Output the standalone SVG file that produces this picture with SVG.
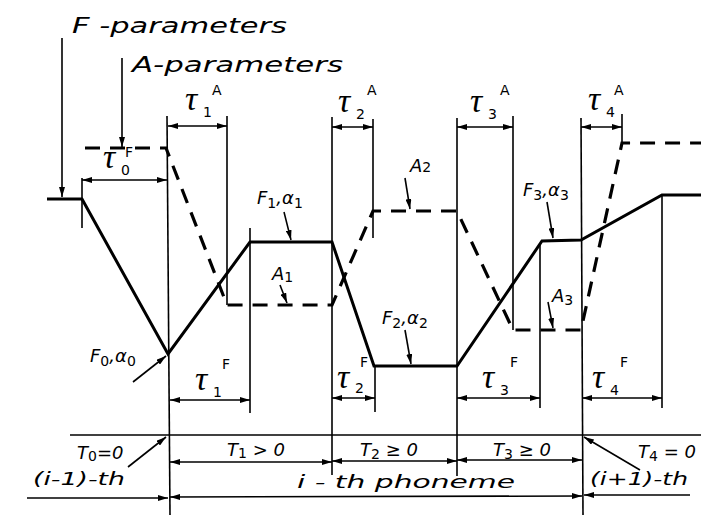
<svg xmlns="http://www.w3.org/2000/svg" width="701" height="521" viewBox="0 0 701 521">
<defs>
<marker id="ah" viewBox="0 0 10 6" refX="10" refY="3" markerWidth="10" markerHeight="6" markerUnits="userSpaceOnUse" orient="auto-start-reverse">
<path d="M0,0 L10,3 L0,6 Z" fill="#000"/>
</marker>
<style>
.thin{stroke:#000;stroke-width:1.6;fill:none}
.dim{stroke:#000;stroke-width:1.6;fill:none;marker-start:url(#ah);marker-end:url(#ah)}
.ptr{stroke:#000;stroke-width:1.6;fill:none;marker-end:url(#ah)}
.F{stroke:#000;stroke-width:3;fill:none;stroke-linejoin:miter}
.A{stroke:#000;stroke-width:3.2;fill:none;stroke-dasharray:15 10}
text{font-family:"DejaVu Sans","Liberation Sans",sans-serif;font-style:italic;fill:#000}
.tau{font-size:34px;font-family:"Liberation Serif","DejaVu Serif",serif;font-style:italic}
.sub{font-size:14px;font-style:normal}
.lab{font-size:18px}
.big{font-size:22px}
</style>
</defs>
<rect width="701" height="521" fill="#fff"/>

<g id="connectors">
<line class="thin" x1="167" y1="116" x2="170" y2="515"/>
<line class="thin" x1="227" y1="116" x2="227" y2="305"/>
<line class="thin" x1="250" y1="228" x2="250" y2="413"/>
<line class="thin" x1="332" y1="117" x2="332" y2="475"/>
<line class="thin" x1="373" y1="119" x2="373" y2="238"/>
<line class="thin" x1="375" y1="366" x2="375" y2="412"/>
<line class="thin" x1="457" y1="118" x2="457" y2="476"/>
<line class="thin" x1="513" y1="116" x2="513" y2="330"/>
<line class="thin" x1="540" y1="245" x2="540" y2="408"/>
<line class="thin" x1="581" y1="118" x2="583" y2="515"/>
<line class="thin" x1="622" y1="114" x2="622" y2="143"/>
<line class="thin" x1="662" y1="195" x2="662" y2="408"/>
<line class="thin" x1="82" y1="178" x2="82" y2="228"/>

<line class="ptr" x1="62" y1="38" x2="62" y2="197"/>
<line class="ptr" x1="122" y1="58" x2="122" y2="147"/>

<line class="dim" x1="168" y1="126" x2="227" y2="126"/>
<line class="dim" x1="332" y1="127" x2="373" y2="127"/>
<line class="dim" x1="457" y1="127" x2="513" y2="127"/>
<line class="dim" x1="581" y1="127" x2="622" y2="127"/>
<line class="dim" x1="82" y1="180" x2="167" y2="180"/>
<line class="dim" x1="170" y1="400" x2="250" y2="400"/>
<line class="dim" x1="332" y1="398" x2="375" y2="398"/>
<line class="dim" x1="457" y1="398" x2="540" y2="398"/>
<line class="dim" x1="582" y1="398" x2="662" y2="398"/>

<line class="thin" x1="70" y1="435" x2="701" y2="435"/>
<line class="dim" x1="170" y1="462" x2="332" y2="462"/>
<line class="dim" x1="332" y1="461" x2="457" y2="461"/>
<line class="dim" x1="457" y1="460" x2="582" y2="460"/>
<line class="ptr" x1="27" y1="498" x2="168" y2="498"/>
<line class="dim" x1="170" y1="497" x2="582" y2="496"/>
<line class="ptr" x1="690" y1="495" x2="584" y2="495"/>

<line class="ptr" x1="133" y1="382" x2="166" y2="356"/>
<line class="ptr" x1="284" y1="212" x2="291" y2="240"/>
<line class="ptr" x1="280" y1="285" x2="287" y2="303"/>
<line class="ptr" x1="405" y1="178" x2="410" y2="209"/>
<line class="ptr" x1="405" y1="330" x2="411" y2="364"/>
<line class="ptr" x1="547" y1="202" x2="553" y2="238"/>
<line class="ptr" x1="548" y1="302" x2="553" y2="328"/>
<line class="ptr" x1="128" y1="467" x2="166" y2="437"/>
<line class="ptr" x1="640" y1="470" x2="584" y2="437"/>

<polyline class="F" points="47,199 82,199 168,354 250,242 332,242 374,366 457,366 542,241 581,240 662,195 701,195"/>
<polyline class="A" points="85,148 166,148 227,305 332,305 373,211 457,211 513,330 581,330 622,143 701,143"/>
</g>

<g id="labels">
<text class="big" x="72" y="33" textLength="215" lengthAdjust="spacingAndGlyphs">F -parameters</text>
<text class="big" x="132" y="72" textLength="211" lengthAdjust="spacingAndGlyphs">A-parameters</text>

<text class="tau" x="185" y="110">τ</text><text class="sub" x="203" y="117">1</text><text class="sub" x="212" y="95">A</text>
<text class="tau" x="338" y="112">τ</text><text class="sub" x="356" y="119">2</text><text class="sub" x="367" y="95">A</text>
<text class="tau" x="470" y="112">τ</text><text class="sub" x="488" y="119">3</text><text class="sub" x="500" y="95">A</text>
<text class="tau" x="588" y="110">τ</text><text class="sub" x="606" y="117">4</text><text class="sub" x="614" y="95">A</text>
<text class="tau" x="103" y="168">τ</text><text class="sub" x="121" y="175">0</text><text class="sub" x="125" y="157">F</text>

<text class="tau" x="195" y="390">τ</text><text class="sub" x="213" y="397">1</text><text class="sub" x="222" y="369">F</text>
<text class="tau" x="337" y="388">τ</text><text class="sub" x="355" y="393">2</text><text class="sub" x="360" y="367">F</text>
<text class="tau" x="482" y="388">τ</text><text class="sub" x="500" y="395">3</text><text class="sub" x="510" y="367">F</text>
<text class="tau" x="592" y="388">τ</text><text class="sub" x="610" y="395">4</text><text class="sub" x="620" y="367">F</text>

<text class="lab" x="90" y="362">F<tspan class="sub" dy="4">0</tspan><tspan dy="-4">,α</tspan><tspan class="sub" dy="4">0</tspan></text>
<text class="lab" x="257" y="204">F<tspan class="sub" dy="4">1</tspan><tspan dy="-4">,α</tspan><tspan class="sub" dy="4">1</tspan></text>
<text class="lab" x="382" y="324">F<tspan class="sub" dy="4">2</tspan><tspan dy="-4">,α</tspan><tspan class="sub" dy="4">2</tspan></text>
<text class="lab" x="523" y="196">F<tspan class="sub" dy="4">3</tspan><tspan dy="-4">,α</tspan><tspan class="sub" dy="4">3</tspan></text>
<text class="lab" x="272" y="280">A<tspan class="sub" dy="2">1</tspan></text>
<text class="lab" x="410" y="172">A<tspan class="sub" dy="0">2</tspan></text>
<text class="lab" x="552" y="302">A<tspan class="sub" dy="3">3</tspan></text>

<text class="lab" x="77" y="459">T<tspan class="sub" dy="2">0</tspan><tspan dy="-2">=0</tspan></text>
<text class="lab" x="227" y="456">T<tspan class="sub" dy="2">1</tspan><tspan dy="-2"> &gt; 0</tspan></text>
<text class="lab" x="360" y="456">T<tspan class="sub" dy="3">2</tspan><tspan dy="-3"> ≥ 0</tspan></text>
<text class="lab" x="493" y="456">T<tspan class="sub" dy="3">3</tspan><tspan dy="-3"> ≥ 0</tspan></text>
<text class="lab" x="638" y="458">T<tspan class="sub" dy="3">4</tspan><tspan dy="-3"> = 0</tspan></text>
<text class="lab" x="33" y="485" textLength="92" lengthAdjust="spacingAndGlyphs">(i-1)-th</text>
<text class="lab" x="590" y="485" textLength="98" lengthAdjust="spacingAndGlyphs">(i+1)-th</text>
<text class="lab" x="297" y="488" textLength="218" lengthAdjust="spacingAndGlyphs">i - th  phoneme</text>
</g>
</svg>
